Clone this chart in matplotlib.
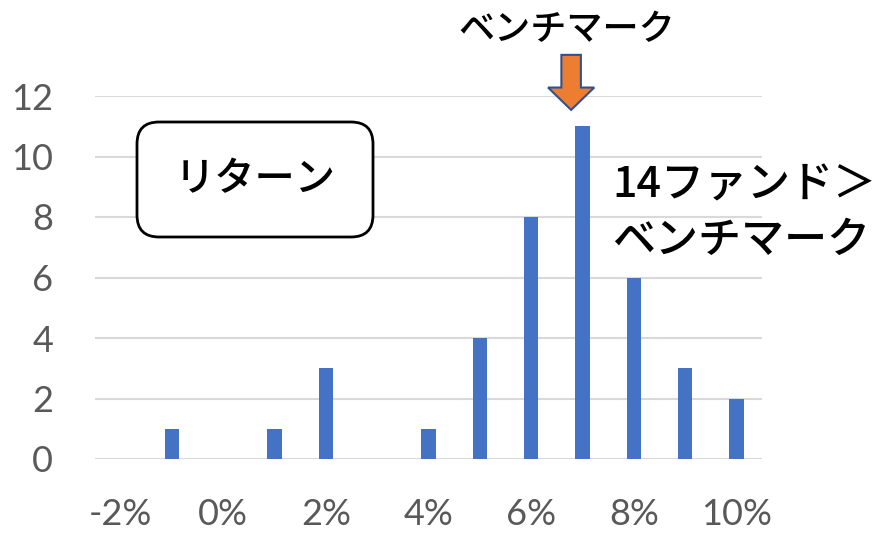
import matplotlib
matplotlib.use("Agg")
import matplotlib.pyplot as plt
from matplotlib.patches import FancyArrow, FancyBboxPatch
from matplotlib.transforms import IdentityTransform

# return buckets (%) and number of funds in each
returns = [-2, -1, 0, 1, 2, 3, 4, 5, 6, 7, 8, 9, 10]
counts = [0, 1, 0, 1, 3, 0, 1, 4, 8, 11, 6, 3, 2]
xtick_vals = [-2, 0, 2, 4, 6, 8, 10]
xtick_labels = ["-2%", "0%", "2%", "4%", "6%", "8%", "10%"]
ytick_vals = [0, 2, 4, 6, 8, 10, 12]
benchmark = 6.78

JP = ["Noto Sans CJK JP", "DejaVu Sans"]
NUM = ["Lato", "DejaVu Sans"]

fig = plt.figure(figsize=(8.79, 5.33), dpi=100)
ax = fig.add_axes([95 / 879, 74 / 533, 667 / 879, 363 / 533])

ax.bar(returns, counts, width=0.28, color="#4472C4", zorder=3)

ax.set_xlim(-2.5, 10.5)
ax.set_ylim(0, 12)
ax.set_xticks(xtick_vals)
ax.set_xticklabels(xtick_labels)
ax.set_yticks(ytick_vals)
ax.tick_params(axis="both", length=0, labelcolor="#595959", labelsize=26)
ax.tick_params(axis="y", pad=30)
ax.tick_params(axis="x", pad=28)
for lab in ax.get_xticklabels() + ax.get_yticklabels():
    lab.set_family(NUM)
ax.yaxis.grid(True, color="#D9D9D9", linewidth=1.5, zorder=0)
ax.set_axisbelow(True)
for s in ax.spines.values():
    s.set_visible(False)

# benchmark arrow above the tallest bar
arrow = FancyArrow(benchmark, 13.36, 0, -1.82, width=0.38, head_width=0.9,
                   head_length=0.74, length_includes_head=True,
                   facecolor="#ED7D31", edgecolor="#2F528F", linewidth=1.5,
                   clip_on=False, zorder=5)
ax.add_patch(arrow)
fig.text(567 / 879, 1 - 30 / 533, "ベンチマーク", family=JP, fontsize=26,
         weight="medium", ha="center", va="center", color="black")

# rounded label box
box = FancyBboxPatch((137, 296), 236, 115, boxstyle="round,pad=0,rounding_size=22",
                     transform=IdentityTransform(), facecolor="white",
                     edgecolor="black", linewidth=2, zorder=6)
fig.patches.append(box)
fig.text(255 / 879, 1 - 180 / 533, "リターン", family=JP, fontsize=29,
         weight="medium", ha="center", va="center", color="black", zorder=7)

fig.text(612 / 879, 1 - 185 / 533, "14ファンド＞", family=JP, fontsize=31,
         weight="medium", ha="left", va="center", color="black")
fig.text(612 / 879, 1 - 240 / 533, "ベンチマーク", family=JP, fontsize=31,
         weight="medium", ha="left", va="center", color="black")

fig.savefig("out.png", dpi=100)
